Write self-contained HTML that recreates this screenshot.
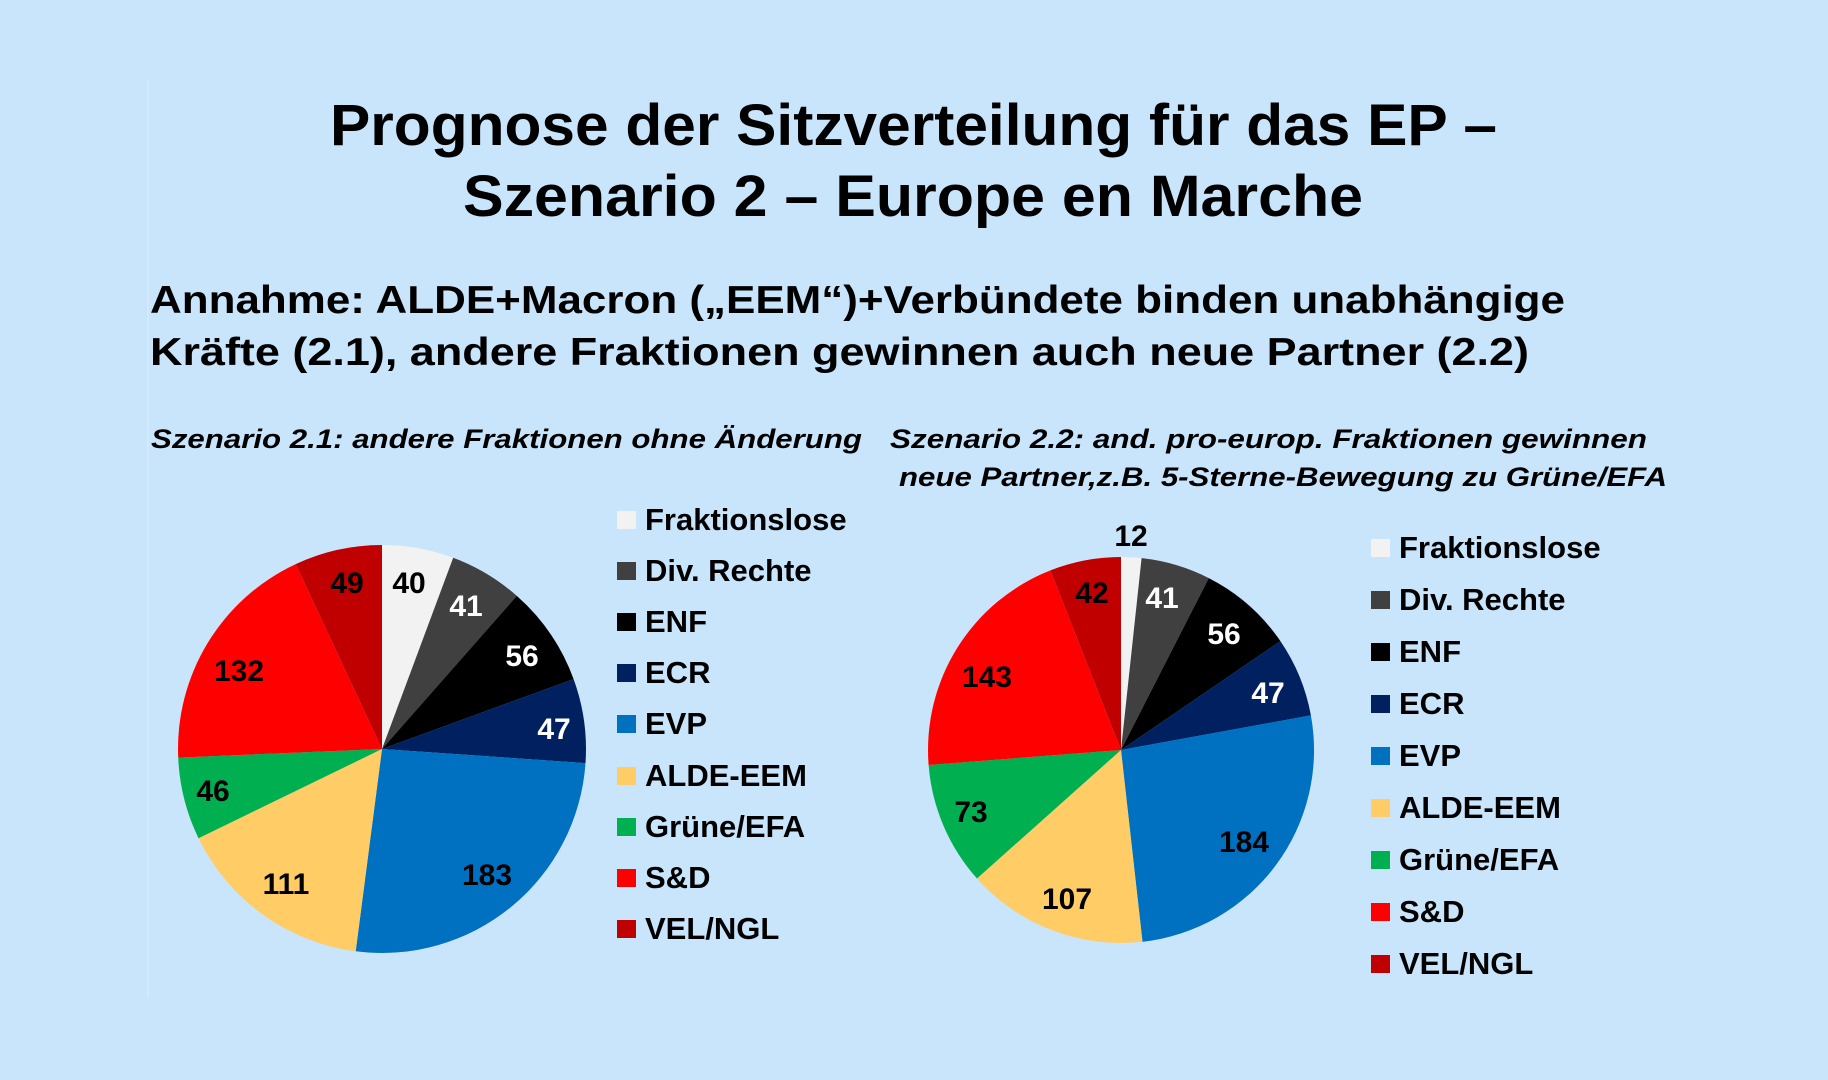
<!DOCTYPE html>
<html>
<head>
<meta charset="utf-8">
<style>
  html,body{margin:0;padding:0;background:#C9E5FC;}
  svg{display:block;}
  .t{font-family:"Liberation Sans",sans-serif;font-weight:bold;fill:#000;}
  .it{font-family:"Liberation Sans",sans-serif;font-weight:bold;font-style:italic;fill:#000;}
  .lg{font-family:"Liberation Sans",sans-serif;font-weight:bold;font-size:31px;fill:#000;}
  .lb{font-family:"Liberation Sans",sans-serif;font-weight:bold;font-size:30px;text-anchor:middle;}
</style>
</head>
<body>
<svg width="1828" height="1080" viewBox="0 0 1828 1080" xmlns="http://www.w3.org/2000/svg">
  <rect x="0" y="0" width="1828" height="1080" fill="#C9E5FC"/>
  <line x1="148" y1="80" x2="148" y2="997" stroke="#D2EAFC" stroke-width="2"/>

  <!-- Title -->
  <text class="t" x="330" y="145" font-size="58" textLength="1167" lengthAdjust="spacingAndGlyphs">Prognose der Sitzverteilung für das EP –</text>
  <text class="t" x="463" y="216" font-size="58" textLength="900" lengthAdjust="spacingAndGlyphs">Szenario 2 – Europe en Marche</text>

  <!-- Subtitle -->
  <text class="t" x="150" y="313" font-size="39" textLength="1415" lengthAdjust="spacingAndGlyphs">Annahme: ALDE+Macron („EEM“)+Verbündete binden unabhängige</text>
  <text class="t" x="150" y="365" font-size="39" textLength="1379" lengthAdjust="spacingAndGlyphs">Kräfte (2.1), andere Fraktionen gewinnen auch neue Partner (2.2)</text>

  <!-- Scenario labels -->
  <text class="it" x="151" y="448" font-size="27" textLength="711" lengthAdjust="spacingAndGlyphs">Szenario 2.1: andere Fraktionen ohne Änderung</text>
  <text class="it" x="890" y="448" font-size="27" textLength="757" lengthAdjust="spacingAndGlyphs">Szenario 2.2: and. pro-europ. Fraktionen gewinnen</text>
  <text class="it" x="899" y="486" font-size="27" textLength="768" lengthAdjust="spacingAndGlyphs">neue Partner,z.B. 5-Sterne-Bewegung zu Grüne/EFA</text>

  <!-- Pie 1 : cx=382 cy=749 r=204 -->
  <g>
    <path d="M382,749 L382,545 A204,204 0 0 1 453.2,557.8 Z" fill="#F2F2F2"/>
    <path d="M382,749 L453.2,557.8 A204,204 0 0 1 516.8,595.9 Z" fill="#404040"/>
    <path d="M382,749 L516.8,595.9 A204,204 0 0 1 573.6,679.1 Z" fill="#000000"/>
    <path d="M382,749 L573.6,679.1 A204,204 0 0 1 585.5,763.1 Z" fill="#002060"/>
    <path d="M382,749 L585.5,763.1 A204,204 0 0 1 355.7,951.3 Z" fill="#0070C0"/>
    <path d="M382,749 L355.7,951.3 A204,204 0 0 1 198.5,838.2 Z" fill="#FFCC66"/>
    <path d="M382,749 L198.5,838.2 A204,204 0 0 1 178.2,757.6 Z" fill="#00B050"/>
    <path d="M382,749 L178.2,757.6 A204,204 0 0 1 295.7,564.1 Z" fill="#FF0000"/>
    <path d="M382,749 L295.7,564.1 A204,204 0 0 1 382,545 Z" fill="#C00000"/>
  </g>
  <text class="lb" x="409" y="593" fill="#000">40</text>
  <text class="lb" x="466" y="616" fill="#fff">41</text>
  <text class="lb" x="522" y="666" fill="#fff">56</text>
  <text class="lb" x="554" y="739" fill="#fff">47</text>
  <text class="lb" x="487" y="885" fill="#000">183</text>
  <text class="lb" x="286" y="894" fill="#000">111</text>
  <text class="lb" x="213" y="801" fill="#000">46</text>
  <text class="lb" x="239" y="681" fill="#000">132</text>
  <text class="lb" x="347" y="593" fill="#000">49</text>

  <!-- Legend 1 -->
  <g>
    <rect x="617" y="511" width="19" height="18" fill="#F2F2F2"/>
    <text class="lg" x="645" y="530">Fraktionslose</text>
    <rect x="617" y="562" width="19" height="18" fill="#404040"/>
    <text class="lg" x="645" y="581">Div. Rechte</text>
    <rect x="617" y="613" width="19" height="18" fill="#000000"/>
    <text class="lg" x="645" y="632">ENF</text>
    <rect x="617" y="664" width="19" height="18" fill="#002060"/>
    <text class="lg" x="645" y="683">ECR</text>
    <rect x="617" y="715" width="19" height="18" fill="#0070C0"/>
    <text class="lg" x="645" y="734">EVP</text>
    <rect x="617" y="767" width="19" height="18" fill="#FFCC66"/>
    <text class="lg" x="645" y="786">ALDE-EEM</text>
    <rect x="617" y="818" width="19" height="18" fill="#00B050"/>
    <text class="lg" x="645" y="837">Grüne/EFA</text>
    <rect x="617" y="869" width="19" height="18" fill="#FF0000"/>
    <text class="lg" x="645" y="888">S&amp;D</text>
    <rect x="617" y="920" width="19" height="18" fill="#C00000"/>
    <text class="lg" x="645" y="939">VEL/NGL</text>
  </g>

  <!-- Pie 2 : cx=1121 cy=750 r=193 -->
  <g>
    <path d="M1121,750 L1121,557 A193,193 0 0 1 1141.6,558.1 Z" fill="#F2F2F2"/>
    <path d="M1121,750 L1141.6,558.1 A193,193 0 0 1 1208.8,578.1 Z" fill="#404040"/>
    <path d="M1121,750 L1208.8,578.1 A193,193 0 0 1 1280.4,641.1 Z" fill="#000000"/>
    <path d="M1121,750 L1280.4,641.1 A193,193 0 0 1 1310.9,715.4 Z" fill="#002060"/>
    <path d="M1121,750 L1310.9,715.4 A193,193 0 0 1 1142.5,941.8 Z" fill="#0070C0"/>
    <path d="M1121,750 L1142.5,941.8 A193,193 0 0 1 977.0,878.5 Z" fill="#FFCC66"/>
    <path d="M1121,750 L977.0,878.5 A193,193 0 0 1 928.6,765.0 Z" fill="#00B050"/>
    <path d="M1121,750 L928.6,765.0 A193,193 0 0 1 1050.4,570.4 Z" fill="#FF0000"/>
    <path d="M1121,750 L1050.4,570.4 A193,193 0 0 1 1121,557 Z" fill="#C00000"/>
  </g>
  <text class="lb" x="1131" y="546" fill="#000">12</text>
  <text class="lb" x="1162" y="608" fill="#fff">41</text>
  <text class="lb" x="1224" y="644" fill="#fff">56</text>
  <text class="lb" x="1268" y="703" fill="#fff">47</text>
  <text class="lb" x="1244" y="852" fill="#000">184</text>
  <text class="lb" x="1067" y="909" fill="#000">107</text>
  <text class="lb" x="971" y="822" fill="#000">73</text>
  <text class="lb" x="987" y="687" fill="#000">143</text>
  <text class="lb" x="1092" y="603" fill="#000">42</text>

  <!-- Legend 2 -->
  <g>
    <rect x="1371" y="539" width="19" height="18" fill="#F2F2F2"/>
    <text class="lg" x="1399" y="558">Fraktionslose</text>
    <rect x="1371" y="591" width="19" height="18" fill="#404040"/>
    <text class="lg" x="1399" y="610">Div. Rechte</text>
    <rect x="1371" y="643" width="19" height="18" fill="#000000"/>
    <text class="lg" x="1399" y="662">ENF</text>
    <rect x="1371" y="695" width="19" height="18" fill="#002060"/>
    <text class="lg" x="1399" y="714">ECR</text>
    <rect x="1371" y="747" width="19" height="18" fill="#0070C0"/>
    <text class="lg" x="1399" y="766">EVP</text>
    <rect x="1371" y="799" width="19" height="18" fill="#FFCC66"/>
    <text class="lg" x="1399" y="818">ALDE-EEM</text>
    <rect x="1371" y="851" width="19" height="18" fill="#00B050"/>
    <text class="lg" x="1399" y="870">Grüne/EFA</text>
    <rect x="1371" y="903" width="19" height="18" fill="#FF0000"/>
    <text class="lg" x="1399" y="922">S&amp;D</text>
    <rect x="1371" y="955" width="19" height="18" fill="#C00000"/>
    <text class="lg" x="1399" y="974">VEL/NGL</text>
  </g>
</svg>
</body>
</html>
